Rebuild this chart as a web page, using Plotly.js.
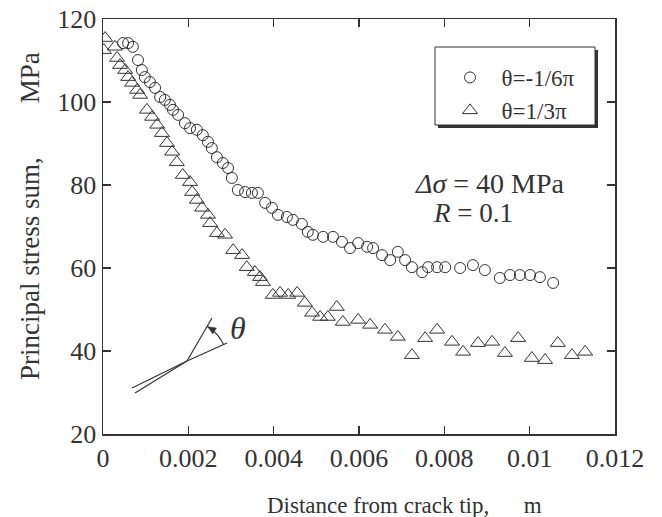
<!DOCTYPE html>
<html>
<head>
<meta charset="utf-8">
<script src="https://cdn.plot.ly/plotly-3.0.1.min.js"></script>
<style>html,body{margin:0;padding:0;background:#fff;}#chart{width:662px;height:517px;}</style>
</head>
<body>
<div id="chart"></div>
<script>
// ---- data (distance in m, principal stress sum in MPa) ----
const circleX = [0.00047,0.00059,0.00070,0.00082,0.00091,0.00098,0.00110,0.00122,0.00134,0.00145,0.00157,0.00164,0.00176,0.00192,0.00204,0.00220,0.00234,0.00246,0.00255,0.00267,0.00281,0.00293,0.00302,0.00316,0.00333,0.00349,0.00363,0.00380,0.00396,0.00410,0.00431,0.00445,0.00466,0.00480,0.00492,0.00516,0.00539,0.00560,0.00579,0.00598,0.00619,0.00633,0.00654,0.00673,0.00691,0.00708,0.00724,0.00748,0.00762,0.00783,0.00802,0.00837,0.00867,0.00895,0.00930,0.00954,0.00977,0.01001,0.01024,0.01055];
const circleY = [114.2,114.2,113.3,110.1,107.7,106.0,104.8,103.4,101.2,100.5,99.3,98.1,96.9,94.9,93.7,93.3,92.0,90.4,88.9,86.7,85.3,84.1,81.7,78.8,78.3,78.1,78.1,75.7,74.5,72.8,72.3,71.6,70.6,68.7,68.0,67.5,67.5,66.3,64.8,66.0,65.1,64.8,63.1,61.9,63.9,61.9,60.2,59.0,60.2,60.2,60.2,60.0,60.7,59.5,57.6,58.3,58.3,58.3,57.8,56.4];
const triX = [0.00005,0.00002,0.00028,0.00033,0.00040,0.00052,0.00059,0.00068,0.00080,0.00087,0.00103,0.00115,0.00127,0.00138,0.00150,0.00162,0.00173,0.00187,0.00204,0.00209,0.00220,0.00232,0.00246,0.00251,0.00267,0.00286,0.00305,0.00326,0.00337,0.00356,0.00368,0.00375,0.00398,0.00415,0.00434,0.00455,0.00473,0.00490,0.00509,0.00527,0.00548,0.00562,0.00598,0.00626,0.00661,0.00691,0.00724,0.00755,0.00783,0.00818,0.00844,0.00879,0.00912,0.00942,0.00973,0.01005,0.01036,0.01066,0.01099,0.01130];
const triY = [115.4,112.5,113.3,110.6,108.9,107.7,106.0,104.6,102.9,101.7,98.1,96.4,94.5,92.5,90.1,88.0,85.5,82.4,80.7,78.3,76.4,74.5,72.8,70.8,68.4,68.0,64.3,63.1,60.2,59.0,57.8,56.6,53.5,54.0,53.5,54.0,51.6,49.2,48.2,48.2,50.6,47.0,47.5,46.3,45.1,43.4,39.0,43.1,45.1,42.2,39.8,41.9,42.2,39.5,43.1,38.3,37.8,41.9,39.0,39.8];
const seriesNames = ["θ=-1/6π", "θ=1/3π"];
const xTickVals = [0,0.002,0.004,0.006,0.008,0.010,0.012];
const xTickText = ["0","0.002","0.004","0.006","0.008","0.01","0.012"];
const yTickVals = [20,40,60,80,100,120];
const xTitle = "Distance from crack tip,";
const xUnit = "m";
const yTitle = "Principal stress sum,";
const yUnit = "MPa";

// ---- layout helpers (plot-area pixel -> paper) ----
const L = 103, T = 19, W = 512, H = 415;
const fx = p => (p - L) / W;
const fy = p => (T + H - p) / H;
const INK = '#333';
const FONT = 'Liberation Serif';
const NB = '\u00A0';

// crack sketch
const tip = [187, 361];
const shapes = [];
function seg(a, b, w) {
  shapes.push({type:'line', xref:'paper', yref:'paper', x0:fx(a[0]), y0:fy(a[1]), x1:fx(b[0]), y1:fy(b[1]), line:{color:INK, width:w||1.2}});
}
seg([132,388], tip); seg([135,393], tip);
seg(tip, [227,343]); seg(tip, [212,318]);
// arc
const r = 40, a0 = Math.atan2(18, 40), a1 = Math.atan2(43, 25);
let d = '';
for (let i = 0; i <= 20; i++) {
  const a = a0 + (a1 - a0) * i / 20;
  const px = tip[0] + r * Math.cos(a), py = tip[1] - r * Math.sin(a);
  d += (i ? ' L ' : 'M ') + fx(px).toFixed(5) + ',' + fy(py).toFixed(5);
}
shapes.push({type:'path', xref:'paper', yref:'paper', path:d, line:{color:INK, width:1.2}});
// arrowhead at upper end
{
  const a = a1 - 0.02;
  const hx = tip[0] + r * Math.cos(a), hy = tip[1] - r * Math.sin(a);
  const tx = -Math.sin(a), ty = -Math.cos(a);
  const nx = Math.cos(a), ny = -Math.sin(a);
  const bx = hx - tx * 8, by = hy - ty * 8;
  const p1 = [bx + nx * 3.5, by + ny * 3.5], p2 = [bx - nx * 3.5, by - ny * 3.5];
  shapes.push({type:'path', xref:'paper', yref:'paper',
    path:`M ${fx(hx)},${fy(hy)} L ${fx(p1[0])},${fy(p1[1])} L ${fx(p2[0])},${fy(p2[1])} Z`,
    fillcolor:INK, line:{color:INK, width:0.5}});
}
// legend box with shadow
shapes.push({type:'rect', xref:'paper', yref:'paper', x0:fx(438), y0:fy(50), x1:fx(598), y1:fy(128), fillcolor:INK, line:{width:0}});
shapes.push({type:'rect', xref:'paper', yref:'paper', x0:fx(435), y0:fy(47), x1:fx(595), y1:fy(125), fillcolor:'#fff', line:{color:INK, width:1}});

const traces = [
  {x: circleX, y: circleY, name: NB + NB + seriesNames[0], type:'scatter', mode:'markers',
   marker:{symbol:'circle-open', size:11, color:INK, line:{width:1, color:INK}}},
  {x: triX, y: triY, name: NB + NB + seriesNames[1], type:'scatter', mode:'markers',
   marker:{symbol:'triangle-up-open', size:13, color:INK, line:{width:1, color:INK}}}
];

function axisBase() {
  return {showline:true, linecolor:INK, linewidth:1.5, mirror:'ticks', ticks:'inside', ticklen:8,
    tickcolor:INK, tickwidth:1.2, showgrid:false, zeroline:false,
    tickfont:{family:'Liberation Serif', size:26, color:INK}};
}

const layout = {
  width:662, height:517, paper_bgcolor:'#fff', plot_bgcolor:'#fff',
  margin:{l:L, r:662 - L - W, t:T, b:517 - T - H},
  font:{family:FONT, size:26, color:INK},
  showlegend:true,
  legend:{x:fx(450), y:fy(56), xanchor:'left', yanchor:'top', bgcolor:'rgba(0,0,0,0)', borderwidth:0,
    font:{family:FONT, size:23, color:INK}, tracegroupgap:0},
  xaxis: Object.assign(axisBase(), {range:[0, 0.012], tickmode:'array', tickvals:xTickVals, ticktext:xTickText}),
  yaxis: Object.assign(axisBase(), {range:[20, 120], tickmode:'array', tickvals:yTickVals}),
  shapes: shapes,
  annotations:[
    {xref:'paper', yref:'paper', x:fx(404), y:fy(505), text:xTitle + NB.repeat(6) + xUnit, showarrow:false,
     font:{family:FONT, size:23, color:INK}, xanchor:'center', yanchor:'middle'},
    {xref:'paper', yref:'paper', x:fx(30), y:fy(216), text:yTitle + NB.repeat(8) + yUnit, showarrow:false, textangle:-90,
     font:{family:FONT, size:27, color:INK}, xanchor:'center', yanchor:'middle'},
    {xref:'paper', yref:'paper', x:fx(490), y:fy(183), text:'<i>Δσ</i> = 40 MPa', showarrow:false,
     font:{family:FONT, size:28, color:INK}, xanchor:'center', yanchor:'middle'},
    {xref:'paper', yref:'paper', x:fx(473), y:fy(213), text:'<i>R</i> = 0.1', showarrow:false,
     font:{family:FONT, size:27, color:INK}, xanchor:'center', yanchor:'middle'},
    {xref:'paper', yref:'paper', x:fx(238), y:fy(328), text:'<i>θ</i>', showarrow:false,
     font:{family:FONT, size:32, color:INK}, xanchor:'center', yanchor:'middle'}
  ]
};

Plotly.newPlot('chart', traces, layout, {staticPlot:true, displayModeBar:false});
</script>
</body>
</html>
